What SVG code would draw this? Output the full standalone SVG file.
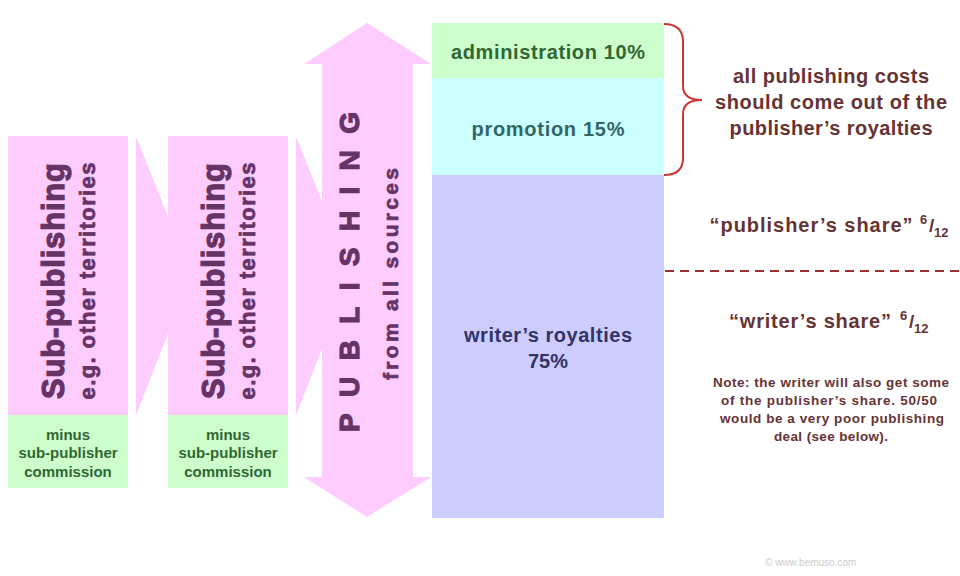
<svg xmlns="http://www.w3.org/2000/svg" width="960" height="576" viewBox="0 0 960 576">
<style>
text{font-family:"Liberation Sans",Arial,sans-serif;font-weight:bold}
.pink{fill:#ffccff}
.green{fill:#ccffcc}
.pt{fill:#663366;text-anchor:middle;stroke:#663366;stroke-width:1.2px}
.pt2{fill:#663366;text-anchor:middle;stroke:#663366;stroke-width:0.7px}
.gt{fill:#336633;font-size:15px;text-anchor:middle}
.mt{fill:#663333;text-anchor:middle}
</style>
<rect width="960" height="576" fill="#ffffff"/>
<g id="connectors">
<polygon class="pink" points="136,136 191,275 136,415"/>
<polygon class="pink" points="296,136 351,275 296,415"/>
<path d="M664,24 Q683,24 683,42 L683,86 Q683,100 702,100 Q683,100 683,114 L683,158 Q683,175 664,175" fill="none" stroke="#cc3333" stroke-width="2"/>
<line x1="665" y1="271" x2="960" y2="271" stroke="#993333" stroke-width="2" stroke-dasharray="9,6"/>
</g>
<g id="sub1">
<rect class="pink" x="8" y="136" width="120" height="279"/>
<rect class="green" x="8" y="415" width="120" height="73"/>
<text class="pt" transform="translate(64,281) rotate(-90)" font-size="31" textLength="236">Sub-publishing</text>
<text class="pt2" transform="translate(95,281) rotate(-90)" font-size="22" textLength="237">e.g. other territories</text>
<text class="gt" x="68" y="440">minus</text>
<text class="gt" x="68" y="458">sub-publisher</text>
<text class="gt" x="68" y="477">commission</text>
</g>
<g id="sub2">
<rect class="pink" x="168" y="136" width="120" height="279"/>
<rect class="green" x="168" y="415" width="120" height="73"/>
<text class="pt" transform="translate(224,281) rotate(-90)" font-size="31" textLength="236">Sub-publishing</text>
<text class="pt2" transform="translate(255,281) rotate(-90)" font-size="22" textLength="237">e.g. other territories</text>
<text class="gt" x="228" y="440">minus</text>
<text class="gt" x="228" y="458">sub-publisher</text>
<text class="gt" x="228" y="477">commission</text>
</g>
<g id="publishing">
<polygon class="pink" points="367,23 431,64 413,64 413,477 431,477 367,517 304,477 322,477 322,64 304,64"/>
<text class="pt" transform="translate(359,272) rotate(-90)" font-size="28" textLength="320">PUBLISHING</text>
<text class="pt2" transform="translate(398,274) rotate(-90)" font-size="21" textLength="212">from all sources</text>
</g>
<g id="admin">
<rect class="green" x="432" y="23" width="232" height="55"/>
<text x="548" y="59" font-size="20" fill="#336633" text-anchor="middle" textLength="194">administration 10%</text>
</g>
<g id="promotion">
<rect x="432" y="78" width="232" height="97" fill="#ccffff"/>
<text x="548" y="136" font-size="20" fill="#336666" text-anchor="middle" textLength="153">promotion 15%</text>
</g>
<g id="writer">
<rect x="432" y="175" width="232" height="343" fill="#ccccff"/>
<text x="548" y="342" font-size="20" fill="#333366" text-anchor="middle" textLength="168">writer’s royalties</text>
<text x="548" y="368" font-size="20" fill="#333366" text-anchor="middle">75%</text>
</g>
<g id="costs">
<text class="mt" x="831" y="83" font-size="20" textLength="196">all publishing costs</text>
<text class="mt" x="831" y="109" font-size="20" textLength="232">should come out of the</text>
<text class="mt" x="831" y="135" font-size="20" textLength="203">publisher’s royalties</text>
</g>
<g id="pubshare">
<text class="mt" x="811" y="232" font-size="20" textLength="203">“publisher’s share”</text>
<text x="920" y="224" font-size="13" fill="#663333">6</text>
<text x="929" y="232" font-size="19" fill="#663333">/</text>
<text x="934" y="237" font-size="13" fill="#663333">12</text>
</g>
<g id="writershare">
<text class="mt" x="810" y="328" font-size="20" textLength="162">“writer’s share”</text>
<text x="900" y="320" font-size="13" fill="#663333">6</text>
<text x="909" y="328" font-size="19" fill="#663333">/</text>
<text x="914" y="333" font-size="13" fill="#663333">12</text>
</g>
<g id="note">
<text class="mt" x="831" y="387" font-size="13.5" textLength="236">Note: the writer will also get some</text>
<text class="mt" x="829" y="405" font-size="13.5" textLength="216">of the publisher’s share. 50/50</text>
<text class="mt" x="832" y="423" font-size="13.5" textLength="224">would be a very poor publishing</text>
<text class="mt" x="831" y="441" font-size="13.5" textLength="114">deal (see below).</text>
</g>
<text x="765" y="566" font-size="10" fill="#cccccc" style="font-weight:normal">© www.bemuso.com</text>
</svg>
